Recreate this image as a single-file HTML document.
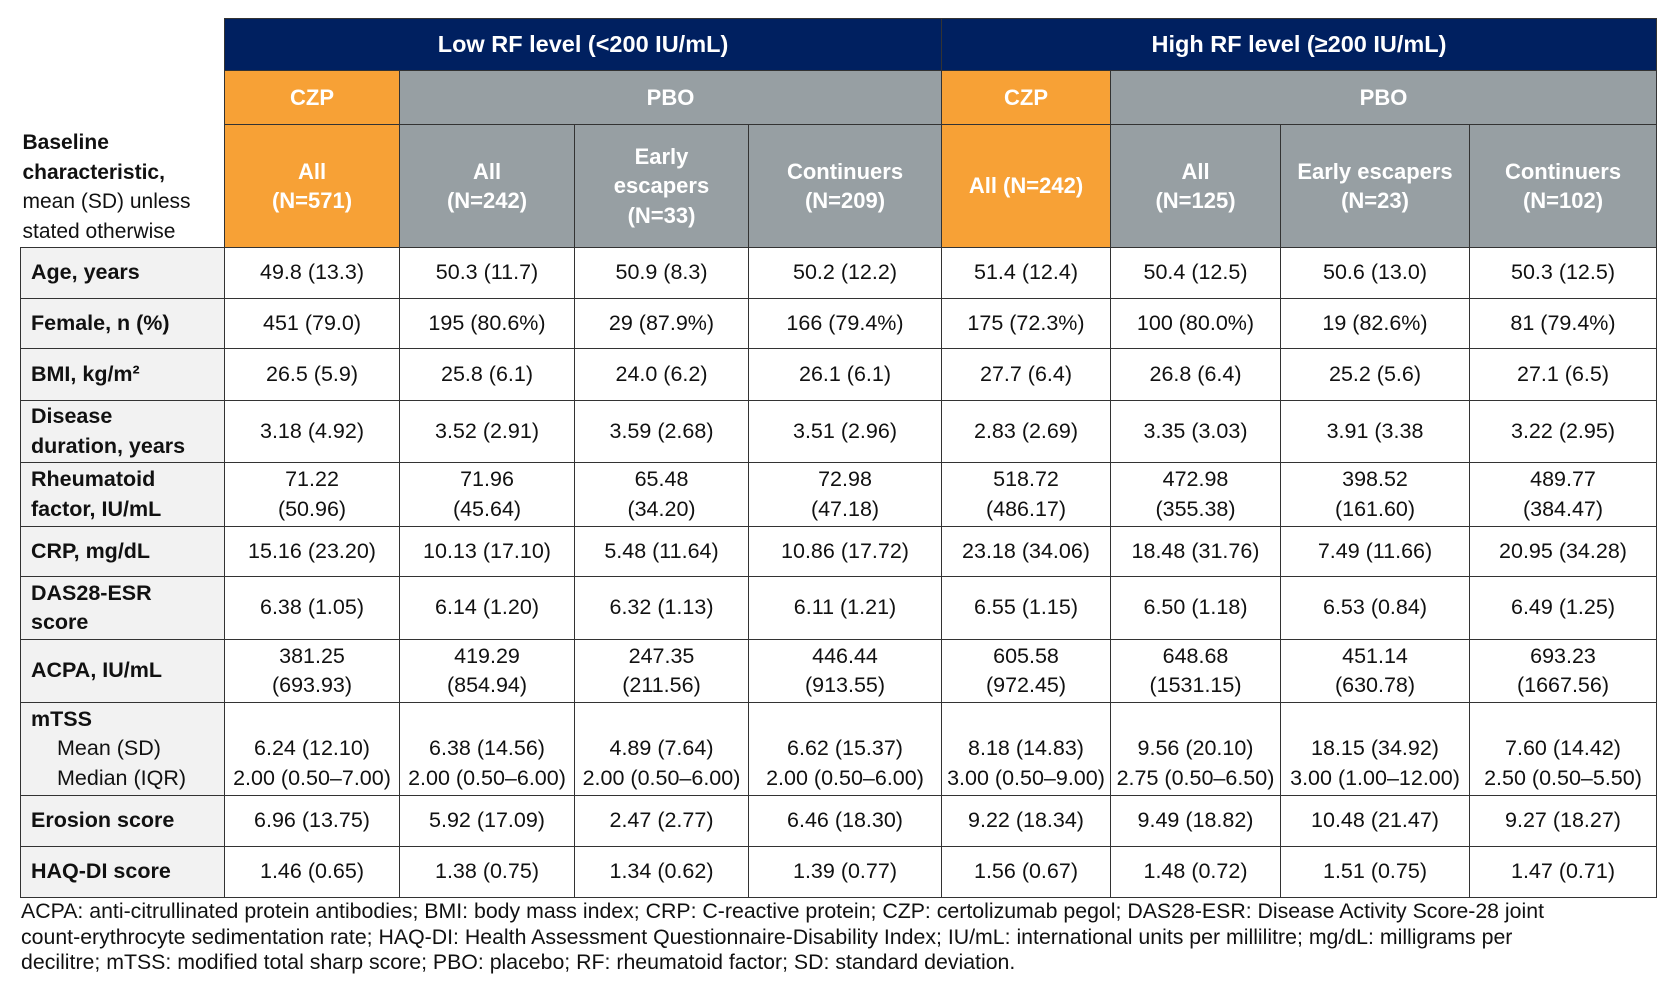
<!DOCTYPE html>
<html><head><meta charset="utf-8"><style>
body{margin:0;width:1676px;height:990px;background:#fff;font-family:"Liberation Sans",sans-serif;position:relative;overflow:hidden}
table{position:absolute;left:20px;top:18px;border-collapse:collapse;table-layout:fixed}
td{border:1px solid #333;text-align:center;vertical-align:middle;font-size:21.5px;color:#111;padding:0;line-height:29.5px;white-space:nowrap}
.h{color:#fff;font-weight:bold;font-size:22px}
.n{background:#002060;font-size:23.5px}.o{background:#F7A136}.g{background:#979FA3}
.l{background:#F2F2F2;text-align:left;padding-left:10px;font-weight:bold;white-space:normal;font-size:21.5px}
.e{border:none;background:#fff}
.foot{position:absolute;left:21px;top:899px;font-size:21.3px;line-height:25.5px;color:#111;white-space:nowrap}
</style></head><body>
<table>
<colgroup><col style="width:204px"><col style="width:175px"><col style="width:175px"><col style="width:174px"><col style="width:193px"><col style="width:169px"><col style="width:170px"><col style="width:189px"><col style="width:187px"></colgroup>
<tr style="height:52px"><td class="e"></td><td colspan="4" class="h n">Low RF level (&lt;200 IU/mL)</td><td colspan="4" class="h n">High RF level (≥200 IU/mL)</td></tr>
<tr style="height:54px"><td class="e"></td><td class="h o">CZP</td><td colspan="3" class="h g">PBO</td><td class="h o">CZP</td><td colspan="3" class="h g">PBO</td></tr>
<tr style="height:123px"><td class="e" style="text-align:left;padding-left:2px;white-space:normal;line-height:29.5px;vertical-align:bottom;padding-bottom:1px;font-size:21px"><b>Baseline characteristic,</b><br>mean (SD) unless stated otherwise</td>
<td class="h o">All<br>(N=571)</td><td class="h g">All<br>(N=242)</td><td class="h g">Early<br>escapers<br>(N=33)</td><td class="h g">Continuers<br>(N=209)</td>
<td class="h o">All (N=242)</td><td class="h g">All<br>(N=125)</td><td class="h g">Early escapers<br>(N=23)</td><td class="h g">Continuers<br>(N=102)</td></tr>
<tr style="height:51px"><td class="l">Age, years</td><td>49.8 (13.3)</td><td>50.3 (11.7)</td><td>50.9 (8.3)</td><td>50.2 (12.2)</td><td>51.4 (12.4)</td><td>50.4 (12.5)</td><td>50.6 (13.0)</td><td>50.3 (12.5)</td></tr>
<tr style="height:50px"><td class="l">Female, n (%)</td><td>451 (79.0)</td><td>195 (80.6%)</td><td>29 (87.9%)</td><td>166 (79.4%)</td><td>175 (72.3%)</td><td>100 (80.0%)</td><td>19 (82.6%)</td><td>81 (79.4%)</td></tr>
<tr style="height:52px"><td class="l">BMI, kg/m²</td><td>26.5 (5.9)</td><td>25.8 (6.1)</td><td>24.0 (6.2)</td><td>26.1 (6.1)</td><td>27.7 (6.4)</td><td>26.8 (6.4)</td><td>25.2 (5.6)</td><td>27.1 (6.5)</td></tr>
<tr style="height:62px"><td class="l">Disease<br>duration, years</td><td>3.18 (4.92)</td><td>3.52 (2.91)</td><td>3.59 (2.68)</td><td>3.51 (2.96)</td><td>2.83 (2.69)</td><td>3.35 (3.03)</td><td>3.91 (3.38</td><td>3.22 (2.95)</td></tr>
<tr style="height:64px"><td class="l">Rheumatoid<br>factor, IU/mL</td><td>71.22<br>(50.96)</td><td>71.96<br>(45.64)</td><td>65.48<br>(34.20)</td><td>72.98<br>(47.18)</td><td>518.72<br>(486.17)</td><td>472.98<br>(355.38)</td><td>398.52<br>(161.60)</td><td>489.77<br>(384.47)</td></tr>
<tr style="height:50px"><td class="l">CRP, mg/dL</td><td>15.16 (23.20)</td><td>10.13 (17.10)</td><td>5.48 (11.64)</td><td>10.86 (17.72)</td><td>23.18 (34.06)</td><td>18.48 (31.76)</td><td>7.49 (11.66)</td><td>20.95 (34.28)</td></tr>
<tr style="height:63px"><td class="l">DAS28-ESR<br>score</td><td>6.38 (1.05)</td><td>6.14 (1.20)</td><td>6.32 (1.13)</td><td>6.11 (1.21)</td><td>6.55 (1.15)</td><td>6.50 (1.18)</td><td>6.53 (0.84)</td><td>6.49 (1.25)</td></tr>
<tr style="height:63px"><td class="l">ACPA, IU/mL</td><td>381.25<br>(693.93)</td><td>419.29<br>(854.94)</td><td>247.35<br>(211.56)</td><td>446.44<br>(913.55)</td><td>605.58<br>(972.45)</td><td>648.68<br>(1531.15)</td><td>451.14<br>(630.78)</td><td>693.23<br>(1667.56)</td></tr>
<tr style="height:93px"><td class="l" style="white-space:nowrap">mTSS<br><span style="font-weight:normal;padding-left:26px">Mean (SD)</span><br><span style="font-weight:normal;padding-left:26px">Median (IQR)</span></td>
<td><br>6.24 (12.10)<br>2.00 (0.50–7.00)</td><td><br>6.38 (14.56)<br>2.00 (0.50–6.00)</td><td><br>4.89 (7.64)<br>2.00 (0.50–6.00)</td><td><br>6.62 (15.37)<br>2.00 (0.50–6.00)</td><td><br>8.18 (14.83)<br>3.00 (0.50–9.00)</td><td><br>9.56 (20.10)<br>2.75 (0.50–6.50)</td><td><br>18.15 (34.92)<br>3.00 (1.00–12.00)</td><td><br>7.60 (14.42)<br>2.50 (0.50–5.50)</td></tr>
<tr style="height:51px"><td class="l">Erosion score</td><td>6.96 (13.75)</td><td>5.92 (17.09)</td><td>2.47 (2.77)</td><td>6.46 (18.30)</td><td>9.22 (18.34)</td><td>9.49 (18.82)</td><td>10.48 (21.47)</td><td>9.27 (18.27)</td></tr>
<tr style="height:51px"><td class="l">HAQ-DI score</td><td>1.46 (0.65)</td><td>1.38 (0.75)</td><td>1.34 (0.62)</td><td>1.39 (0.77)</td><td>1.56 (0.67)</td><td>1.48 (0.72)</td><td>1.51 (0.75)</td><td>1.47 (0.71)</td></tr>
</table>
<div class="foot">ACPA: anti-citrullinated protein antibodies; BMI: body mass index; CRP: C-reactive protein; CZP: certolizumab pegol; DAS28-ESR: Disease Activity Score-28 joint<br>count-erythrocyte sedimentation rate; HAQ-DI: Health Assessment Questionnaire-Disability Index; IU/mL: international units per millilitre; mg/dL: milligrams per<br>decilitre; mTSS: modified total sharp score; PBO: placebo; RF: rheumatoid factor; SD: standard deviation.</div>
</body></html>
